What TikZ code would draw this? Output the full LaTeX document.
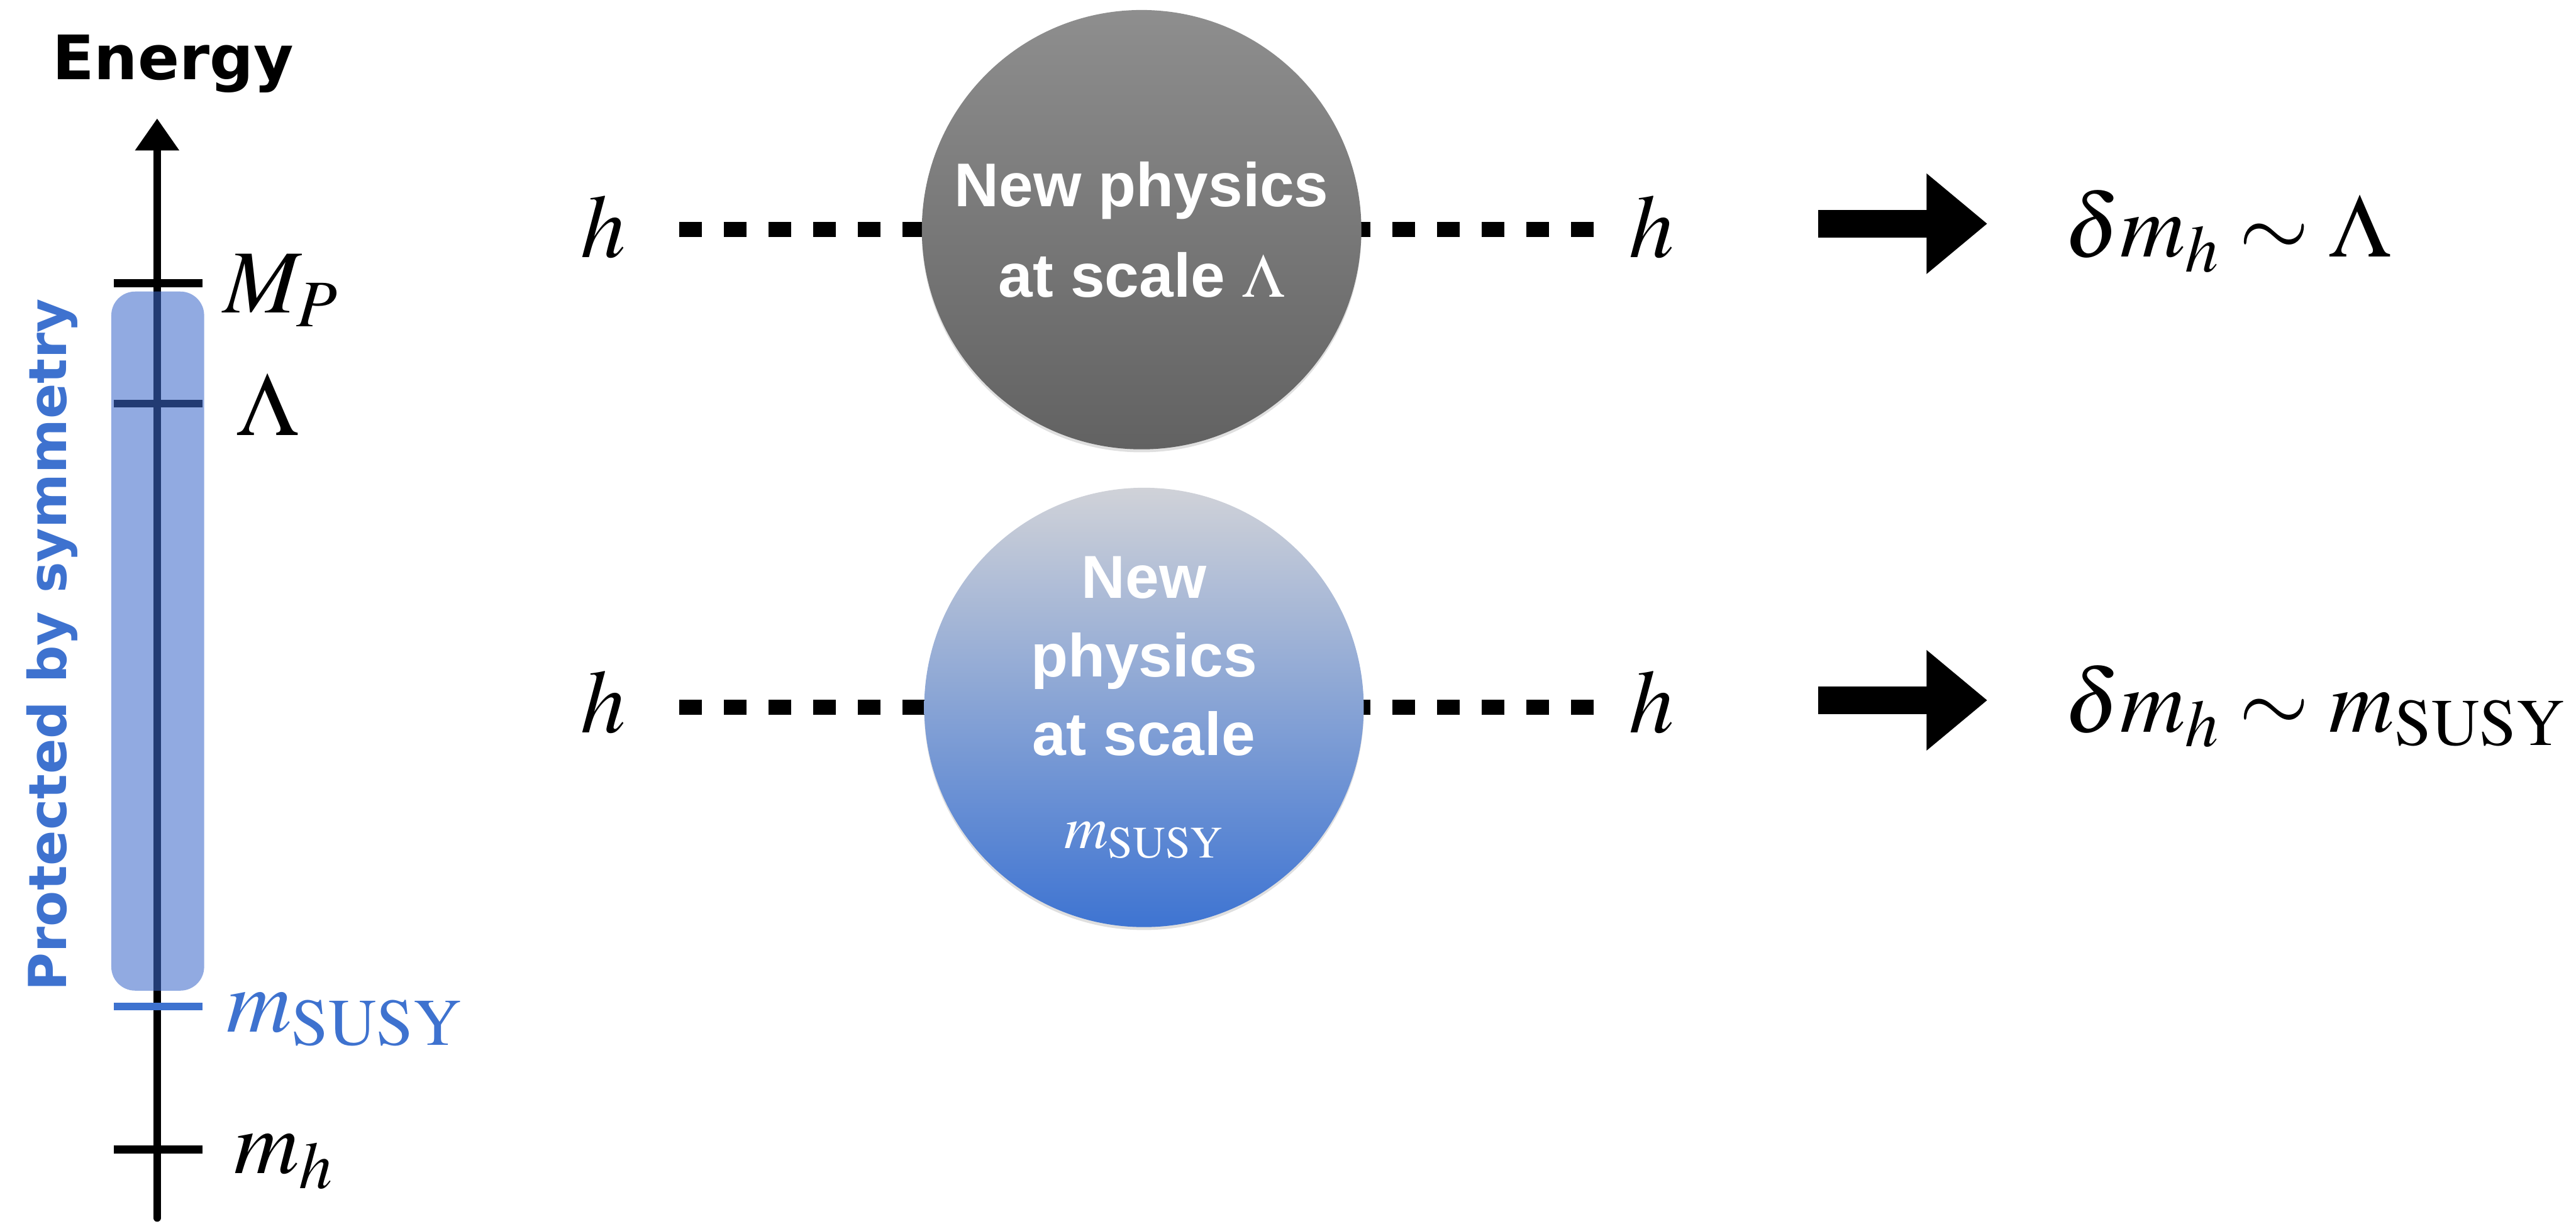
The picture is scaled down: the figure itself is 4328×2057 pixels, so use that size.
\documentclass[tikz,border=0pt]{standalone}
\usepackage{mathptmx}
\usepackage[no-math]{fontspec}
\setmainfont{Liberation Serif}
\newfontfamily\chalk{DejaVu Sans}
\newfontfamily\npsans{Liberation Sans}
\usetikzlibrary{arrows.meta,shadows}

\definecolor{barblue}{RGB}{61,105,203}
\definecolor{labblue}{RGB}{62,114,207}
\definecolor{gtop}{RGB}{142,142,142}
\definecolor{gbot}{RGB}{98,98,98}
\definecolor{btop}{RGB}{208,210,216}
\definecolor{bbot}{RGB}{62,116,210}

\begin{document}
\begin{tikzpicture}[x=0.01cm,y=-0.01cm,
  axisline/.style={line width=0.13cm, line cap=round},
  tickline/.style={line width=0.13cm},
  mathlab/.style={inner sep=0pt, anchor=base west, font=\fontsize{43}{50}\selectfont},
  hdash/.style={line width=0.25cm, dash pattern=on 0.38cm off 0.37cm},
  npcircle/.style={circle, minimum size=7.38cm, inner sep=0pt, text=white, align=center,
    drop shadow={opacity=0.25, shadow xshift=0cm, shadow yshift=-0.05cm}},
  bigarrow/.style={line width=0.47cm, -{Triangle[width=1.62cm,length=1.02cm]}},
  chalktext/.style={inner sep=0pt, anchor=base west}
]
\useasboundingbox (0,0) rectangle (4328,2057);

% energy axis
\coordinate (axbot) at (264,2047);
\coordinate (axtop) at (264,199);
\draw[axisline, -{Triangle[width=0.71cm,length=0.54cm]}] (axbot) -- (axtop);
\draw[tickline] (191,476) -- (340,476);
\draw[tickline] (191,678) -- (340,678);
\draw[tickline, labblue] (191,1692) -- (340,1692);
\draw[tickline] (191,1932) -- (340,1932);
\fill[barblue, opacity=0.57, rounded corners=0.4cm] (187,490) rectangle (343,1665);

\node[chalktext, font=\chalk\bfseries\fontsize{29.3}{31}\selectfont] (energy) at (87,134) {Energy};
\node[chalktext, text=labblue, rotate=90, font=\chalk\bfseries\fontsize{25}{26}\selectfont] (prot) at (112,1666) {Protected by symmetry};

\node[mathlab] (lMP) at (375,526) {$M_P$};
\node[mathlab] (lLam) at (397,732) {$\Lambda$};
\node[mathlab, text=labblue] (lSUSY) at (380,1734) {$m_{\mathrm{SUSY}}$};
\node[mathlab] (lmh) at (393,1972) {$m_h$};

% diagrams
\coordinate (c1) at (1918,386);
\coordinate (c2) at (1922,1189);
\node[mathlab] (hL1) at (975,433) {$h$};
\node[mathlab] (hR1) at (2736,433) {$h$};
\node[mathlab] (hL2) at (975,1232) {$h$};
\node[mathlab] (hR2) at (2736,1232) {$h$};

\draw[hdash, shorten <=0.89cm] (hL1.east |- c1) -- (c1);
\draw[hdash, shorten <=0.58cm] (hR1.west |- c1) -- (c1);
\draw[hdash, shorten <=0.89cm] (hL2.east |- c2) -- (c2);
\draw[hdash, shorten <=0.58cm] (hR2.west |- c2) -- (c2);

\node[npcircle, top color=gtop, bottom color=gbot,
  font=\npsans\bfseries\fontsize{29.5}{43.5}\selectfont] (np1) at (c1)
  {New physics\\at scale $\Lambda$};
\node[npcircle, top color=btop, bottom color=bbot,
  font=\npsans\bfseries\fontsize{29}{37.6}\selectfont] (np2) at (c2)
  {New\\physics\\at scale\\[6.8pt]$m_{\mathrm{SUSY}}$};

\coordinate (a1s) at (3055,376);
\coordinate (a1e) at (3339,376);
\coordinate (a2s) at (3055,1177);
\coordinate (a2e) at (3339,1177);
\draw[bigarrow] (a1s) -- (a1e);
\draw[bigarrow] (a2s) -- (a2e);

\node[mathlab] (r1) at (3468,432) {$\delta m_h \sim \Lambda$};
\node[mathlab] (r2) at (3468,1230) {$\delta m_h \sim m_{\mathrm{SUSY}}$};
\end{tikzpicture}
\end{document}
